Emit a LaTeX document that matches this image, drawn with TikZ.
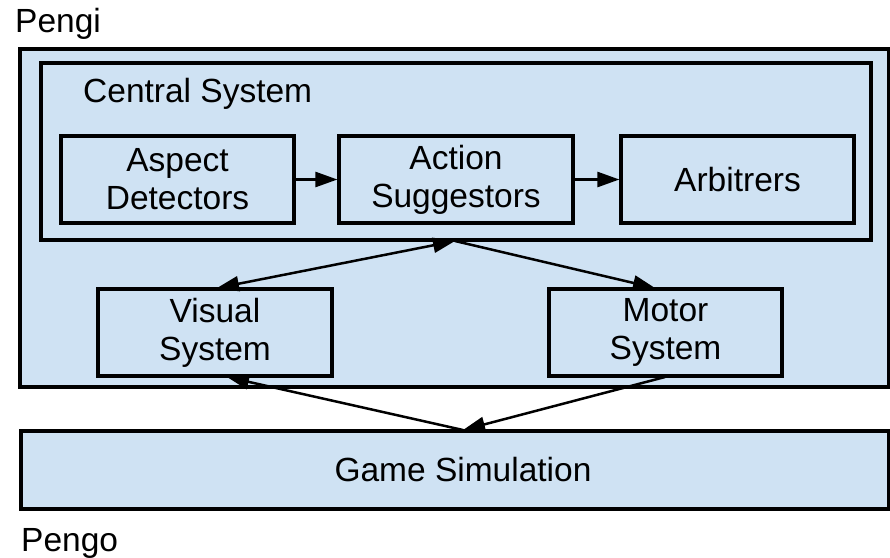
\documentclass[tikz,border=0pt]{standalone}
\usepackage{fontspec}
\setmainfont{Liberation Sans}
\usetikzlibrary{arrows.meta}
\definecolor{boxblue}{HTML}{CFE2F3}
\begin{document}
\begin{tikzpicture}[x=1pt,y=-1pt,
  txt/.style={font=\fontsize{33.5}{38}\selectfont},
  blk/.style={draw=black,line width=3.2pt,fill=boxblue,inner sep=0pt,
    align=center,txt,minimum height=87pt},
  conn/.style={line width=2.5pt,-{Triangle[length=22pt,width=15pt]}},
  biconn/.style={line width=2.5pt,{Triangle[length=22pt,width=15pt]}-{Triangle[length=22pt,width=15pt]}}]
\useasboundingbox (0,0) rectangle (890,557);
\fill[white] (0,0) rectangle (890,557);
% outer boxes
\node[blk,minimum width=869pt,minimum height=338pt] (pengi) at (454.5,218) {};
\node[blk,minimum width=830pt,minimum height=177pt] (cs) at (456,151.5) {};
\node[blk,minimum width=868pt,minimum height=78pt] (game) at (455,470) {};
% labels
\node[txt,anchor=base west,inner sep=0pt] (lpengi) at (15,32) {Pengi};
\node[txt,anchor=base west,inner sep=0pt] (lpengo) at (21,551) {Pengo};
\node[txt,anchor=base west,inner sep=0pt] (lcs) at (83,102) {Central System};
\node[txt,inner sep=0pt] (lgame) at (463,470) {Game Simulation};
% inner blocks
\node[blk,minimum width=233pt] (asp) at (177.5,179.5) {Aspect\\Detectors};
\node[blk,minimum width=234pt] (act) at (456,179.5) {Action\\Suggestors};
\node[blk,minimum width=233pt] (arb) at (737.5,179.5) {Arbitrers};
\node[blk,minimum width=234pt] (vis) at (215,332.5) {Visual\\System};
\node[blk,minimum width=233pt] (mot) at (665.5,332.5) {Motor\\System};
% anchor points
\coordinate (csb) at (455,241);
\coordinate (gt) at (463,430);
\coordinate (vt) at (217,288);
\coordinate (vb) at (227,377);
\coordinate (mt) at (655,288);
\coordinate (mb) at (665,377);
% connectors
\draw[conn] (asp.east) -- (act.west);
\draw[conn] (act.east) -- (arb.west);
\draw[biconn] (vt) -- (csb);
\draw[conn] (csb) -- (mt);
\draw[conn] (gt) -- (vb);
\draw[conn] (mb) -- (gt);
\end{tikzpicture}
\end{document}
